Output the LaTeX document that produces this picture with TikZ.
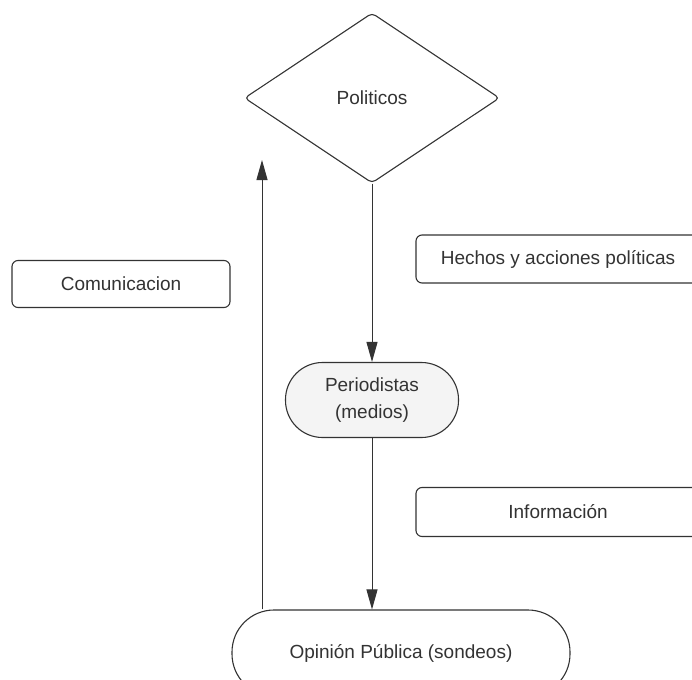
\documentclass[tikz,border=0pt]{standalone}
\usepackage{fontspec}
\setmainfont{Liberation Sans}
\usetikzlibrary{shapes.geometric,arrows.meta}
\definecolor{ink}{HTML}{333333}
\definecolor{softfill}{HTML}{F4F4F4}
\tikzset{
  shp/.style={draw=ink, line width=1.1pt, text=ink, inner sep=0pt, font=\fontsize{19}{27}\selectfont, align=center},
  lbl/.style={shp, rectangle, rounded corners=6pt},
  arr/.style={draw=ink, line width=1pt, -{Triangle[length=20pt,width=11pt]}}
}
\begin{document}
\begin{tikzpicture}[x=1pt,y=-1pt]
\useasboundingbox (0,0) rectangle (692,679);
\clip (0,0) rectangle (692,679);
\fill[white] (0,0) rectangle (692,679);
\node[shp, diamond, rounded corners=4pt, minimum width=255pt, minimum height=170pt] (pol) at (372,98) {Politicos};
\node[shp, rectangle, rounded corners=37pt, fill=softfill, minimum width=173pt, minimum height=75pt] (per) at (372,400) {Periodistas\\(medios)};
\node[shp, rectangle, rounded corners=42pt, minimum width=338pt, minimum height=86pt] (op) at (401,653) {Opinión Pública (sondeos)};
\node[lbl, minimum width=218pt, minimum height=47pt] (com) at (121,284) {Comunicacion};
\node[lbl, minimum width=284pt, minimum height=48pt] (hec) at (558,259) {Hechos y acciones políticas};
\node[lbl, minimum width=284pt, minimum height=49pt] (inf) at (558,512) {Información};
\coordinate (ctip) at (262,160);
\draw[arr] (pol.south) -- (per.north);
\draw[arr] (per.south) -- (op.north -| per.south);
\draw[arr] (op.north -| ctip) -- (ctip);
\end{tikzpicture}
\end{document}
